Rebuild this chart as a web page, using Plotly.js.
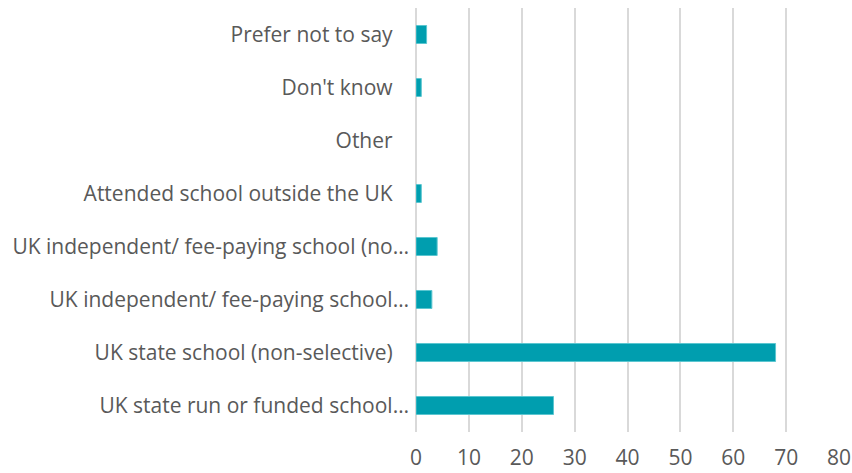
<!DOCTYPE html>
<html>
<head>
<meta charset="utf-8">
<script src="https://cdn.plot.ly/plotly-3.0.1.min.js"></script>
<style>html,body{margin:0;padding:0;background:#fff;}#chart{width:852px;height:473px;}</style>
</head>
<body>
<div id="chart"></div>
<script>
const categories = [
  "UK state run or funded school…",
  "UK state school (non-selective)\u00a0\u00a0\u00a0",
  "UK independent/ fee-paying school…",
  "UK independent/ fee-paying school (no…",
  "Attended school outside the UK\u00a0\u00a0\u00a0",
  "Other\u00a0\u00a0\u00a0",
  "Don't know\u00a0\u00a0\u00a0",
  "Prefer not to say\u00a0\u00a0\u00a0"
];
const values = [26, 68, 3, 4, 1, 0, 1, 2];
const xTicks = [0, 10, 20, 30, 40, 50, 60, 70, 80];

const trace = {
  type: 'bar',
  orientation: 'h',
  y: categories,
  x: values,
  marker: {color: '#009EAF', line: {color: '#5CC6D0', width: values.map(v => v > 0 ? 1 : 0)}},
  hoverinfo: 'none'
};
const layout = {
  width: 852, height: 473,
  margin: {l: 416, r: 13, t: 8, b: 41},
  paper_bgcolor: '#fff', plot_bgcolor: '#fff',
  bargap: 0.66,
  showlegend: false,
  font: {family: 'Open Sans, sans-serif', color: '#595959', size: 21},
  xaxis: {
    range: [0, 80], tickvals: xTicks, ticktext: xTicks.map(String),
    showgrid: true, gridcolor: '#D9D9D9', gridwidth: 2,
    zeroline: true, zerolinecolor: '#D9D9D9', zerolinewidth: 2,
    showline: false, ticks: '',
    ticklabelstandoff: 11,
    tickfont: {size: 21, color: '#595959'}, fixedrange: true
  },
  yaxis: {
    type: 'category', showgrid: false, zeroline: false, showline: false,
    ticks: '', ticklabelstandoff: 6, automargin: false,
    tickfont: {size: 21, color: '#595959'}, fixedrange: true
  }
};
Plotly.newPlot('chart', [trace], layout, {displayModeBar: false, staticPlot: true});
</script>
</body>
</html>
